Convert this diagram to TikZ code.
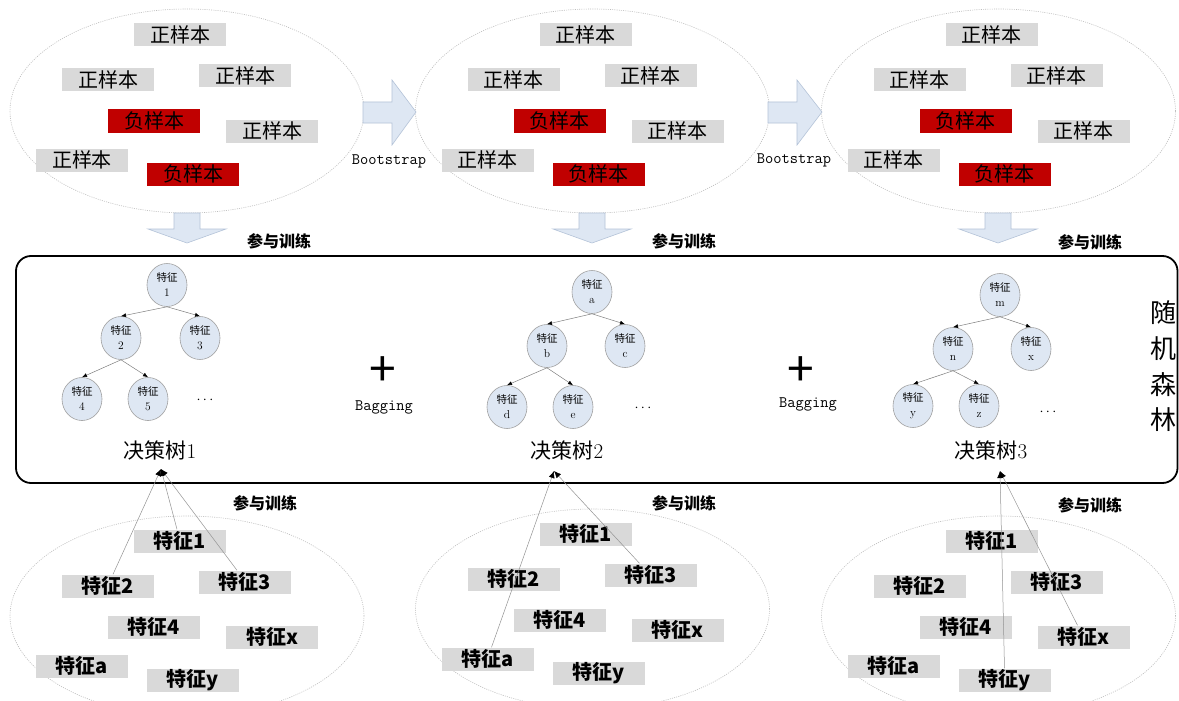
\documentclass[tikz,border=0pt]{standalone}
\usepackage{fontspec}
\newfontfamily\cjk{Noto Sans CJK SC}
\usetikzlibrary{shapes.geometric,arrows.meta,calc}
\definecolor{boxgray}{HTML}{D9D9D9}
\definecolor{negred}{HTML}{C00000}
\definecolor{lightblue}{HTML}{DEE7F3}
\definecolor{arrowborder}{HTML}{B4C3D8}
\definecolor{ellgray}{HTML}{BDBDBD}
\definecolor{circborder}{HTML}{A0A0A0}
\newcommand\featlbl[1]{{\cjk\fontsize{10.5}{11}\selectfont 特征}\\#1}
\tikzset{
  sample/.style={minimum width=92pt, minimum height=23pt, inner sep=0pt, font=\cjk\fontsize{20}{20}\selectfont},
  posbox/.style={sample, fill=boxgray},
  negbox/.style={sample, fill=negred},
  featbox/.style={sample, fill=boxgray, font=\cjk\bfseries\fontsize{20}{20}\selectfont},
  pool/.style={ellipse, draw=ellgray, line width=0.6pt, dash pattern=on 1pt off 1.2pt, minimum width=354pt, minimum height=204pt, inner sep=0pt},
  treenode/.style={ellipse, draw=circborder, fill=lightblue, line width=0.6pt, minimum width=40pt, minimum height=43pt, inner sep=0pt, align=center, font=\fontsize{11.5}{15}\selectfont},
  treeedge/.style={draw=gray, line width=0.5pt, -{Latex[length=5pt,width=4pt,color=black]}},
  trainline/.style={draw=gray!85, line width=0.5pt, -{Latex[length=7pt,width=6pt,color=black]}},
  blockarrow/.style={fill=lightblue, draw=arrowborder, line width=0.6pt},
  monolabel/.style={font=\ttfamily\fontsize{16}{16}\selectfont, inner sep=0pt},
  trainlabel/.style={font=\cjk\bfseries\fontsize{16}{16}\selectfont, inner sep=0pt},
  treelabel/.style={font=\fontsize{21}{21}\selectfont, inner sep=0pt},
  plussign/.style={font=\cjk\fontsize{48}{48}\selectfont, inner sep=0pt},
  dotslabel/.style={font=\fontsize{14}{14}\selectfont, inner sep=0pt},
}
\begin{document}
\begin{tikzpicture}[x=1pt,y=-1pt]
\useasboundingbox (0,0) rectangle (1179,701);
\clip (0,0) rectangle (1179,701);
\fill[white] (0,0) rectangle (1179,701);

% ---------- top sample pools ----------
\foreach \i/\dx in {1/0,2/405.5,3/811.5}{
  \node[pool] (top\i) at (187+\dx,111) {};
  \node[posbox] (s\i-a) at (180+\dx,35) {正样本};
  \node[posbox] (s\i-b) at (108+\dx,80) {正样本};
  \node[posbox] (s\i-c) at (245+\dx,76) {正样本};
  \node[negbox] (s\i-d) at (154+\dx,121) {负样本};
  \node[posbox] (s\i-e) at (272+\dx,131) {正样本};
  \node[posbox] (s\i-f) at (82+\dx,160) {正样本};
  \node[negbox] (s\i-g) at (193+\dx,174) {负样本};
}

% Bootstrap block arrows
\draw[blockarrow] (363,102) -- (392,102) -- (392,80) -- (416,112) -- (392,145) -- (392,123) -- (363,123) -- cycle;
\draw[blockarrow] (768,102) -- (797,102) -- (797,80) -- (822,112) -- (797,145) -- (797,123) -- (768,123) -- cycle;
\node[monolabel] (bs1) at (389,161) {Bootstrap};
\node[monolabel] (bs2) at (794,160) {Bootstrap};

% down block arrows
\foreach \cx in {187,592,998}{
  \draw[blockarrow] (\cx-13,213) -- (\cx+13,213) -- (\cx+13,229) -- (\cx+39,229) -- (\cx,243) -- (\cx-39,229) -- (\cx-13,229) -- cycle;
}
\node[trainlabel] (tl1) at (279,241) {参与训练};
\node[trainlabel] (tl2) at (684,241) {参与训练};
\node[trainlabel] (tl3) at (1090,242) {参与训练};

% ---------- random forest frame ----------
\draw[line width=1.8pt, rounded corners=15pt] (16,256) rectangle (1177.5,483);
\node[font=\cjk\fontsize{26}{35.7}\selectfont, align=center, inner sep=0pt] (rf) at (1163,366.5) {随\\机\\森\\林};

% tree 1
\node[treenode] (r1) at (167,285) {\featlbl{1}};
\node[treenode] (a1) at (121,338) {\featlbl{2}};
\node[treenode] (b1) at (200,338) {\featlbl{3}};
\node[treenode] (c1) at (82,399) {\featlbl{4}};
\node[treenode] (d1) at (148,399) {\featlbl{5}};
\node[dotslabel] (dots1) at (205,400) {$\cdots$};
\node[treelabel] (dt1) at (160,450) {{\cjk 决策树}1};
% tree 2
\node[treenode] (r2) at (592,292) {\featlbl{a}};
\node[treenode] (a2) at (547,346) {\featlbl{b}};
\node[treenode] (b2) at (625,346) {\featlbl{c}};
\node[treenode] (c2) at (507,407) {\featlbl{d}};
\node[treenode] (d2) at (573,407) {\featlbl{e}};
\node[dotslabel] (dots2) at (643,408) {$\cdots$};
\node[treelabel] (dt2) at (567,450) {{\cjk 决策树}2};
% tree 3
\node[treenode] (r3) at (1000,295) {\featlbl{m}};
\node[treenode] (a3) at (953,349) {\featlbl{n}};
\node[treenode] (b3) at (1031,349) {\featlbl{x}};
\node[treenode] (c3) at (913,406) {\featlbl{y}};
\node[treenode] (d3) at (979,406) {\featlbl{z}};
\node[dotslabel] (dots3) at (1048,412) {$\cdots$};
\node[treelabel] (dt3) at (991,450) {{\cjk 决策树}3};

\foreach \t in {1,2,3}{
  \draw[treeedge] (r\t.south) -- (a\t.north);
  \draw[treeedge] (r\t.south) -- (b\t.north);
  \draw[treeedge] (a\t.south) -- (c\t.north);
  \draw[treeedge] (a\t.south) -- (d\t.north);
}

% plus / Bagging
\node[plussign] (plus1) at (383,372) {+};
\node[plussign] (plus2) at (801,372) {+};
\node[monolabel] (bag1) at (384,407) {Bagging};
\node[monolabel] (bag2) at (808,404) {Bagging};

% ---------- bottom feature pools ----------
\foreach \i/\dx/\dy in {1/0/0,2/405.5/-7,3/811.5/0}{
  \node[pool, minimum height=200pt] (bot\i) at (187+\dx,616+\dy) {};
  \node[featbox] (f\i-1) at (180+\dx,541+\dy) {特征1};
  \node[featbox] (f\i-2) at (108+\dx,586+\dy) {特征2};
  \node[featbox] (f\i-3) at (245+\dx,582+\dy) {特征3};
  \node[featbox] (f\i-4) at (154+\dx,627+\dy) {特征4};
  \node[featbox] (f\i-x) at (272+\dx,637+\dy) {特征x};
  \node[featbox] (f\i-a) at (82+\dx,666+\dy) {特征a};
  \node[featbox] (f\i-y) at (193+\dx,680+\dy) {特征y};
}
\node[trainlabel] (bl1) at (265,503) {参与训练};
\node[trainlabel] (bl2) at (684,503) {参与训练};
\node[trainlabel] (bl3) at (1090,505) {参与训练};

% training connectors
\coordinate (t1) at (161,469);
\coordinate (t2) at (554,471);
\coordinate (t3) at (1000,471);
\draw[trainline] ([xshift=5pt]f1-2.north) -- (t1);
\draw[trainline] ([xshift=-3pt]f1-1.north) -- (t1);
\draw[trainline] ([xshift=-8pt]f1-3.north) -- (t1);
\draw[trainline] ([xshift=4pt]f2-a.north) -- (t2);
\draw[trainline] ([xshift=-11pt]f2-3.north) -- (t2);
\draw[trainline] (f3-y.north) -- (t3);
\draw[trainline] ([xshift=-6pt]f3-x.north) -- (t3);
\end{tikzpicture}
\end{document}
